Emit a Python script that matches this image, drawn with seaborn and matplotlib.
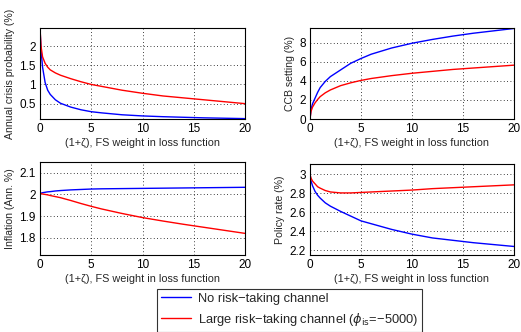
import numpy as np
import pandas as pd
import matplotlib
matplotlib.use("Agg")
import matplotlib.pyplot as plt
import seaborn as sns

# -------------------------------
# Data
# -------------------------------
fs_weight = [0, 0.1, 0.25, 0.5, 0.75, 1, 1.5, 2, 3, 4, 5, 6, 8, 10, 12, 14, 16, 18, 20]

crisis_no_rt = [2.47, 1.9, 1.45, 1.05, 0.85, 0.74, 0.6, 0.51, 0.41, 0.34, 0.29, 0.26,
                0.21, 0.18, 0.16, 0.145, 0.13, 0.12, 0.11]
crisis_large_rt = [2.47, 2.0, 1.72, 1.55, 1.45, 1.38, 1.3, 1.24, 1.15, 1.07, 1.0, 0.95,
                   0.85, 0.77, 0.7, 0.65, 0.6, 0.55, 0.5]

ccb_no_rt = [0, 1.0, 1.6, 2.2, 2.8, 3.3, 3.95, 4.45, 5.15, 5.85, 6.35, 6.8,
             7.45, 7.95, 8.35, 8.7, 9.0, 9.25, 9.5]
ccb_large_rt = [0, 0.8, 1.25, 1.7, 2.05, 2.35, 2.75, 3.05, 3.5, 3.8, 4.05, 4.25,
                4.55, 4.8, 5.0, 5.2, 5.35, 5.5, 5.65]

infl_no_rt = [2.005, 2.006, 2.008, 2.01, 2.012, 2.013, 2.016, 2.018, 2.021, 2.023, 2.025, 2.026,
              2.027, 2.028, 2.029, 2.03, 2.031, 2.032, 2.033]
infl_large_rt = [2.005, 2.004, 2.002, 2.0, 1.998, 1.995, 1.99, 1.985, 1.972, 1.958, 1.945, 1.933,
                 1.912, 1.893, 1.877, 1.862, 1.848, 1.834, 1.82]

rate_no_rt = [3.0, 2.93, 2.88, 2.82, 2.78, 2.75, 2.7, 2.665, 2.61, 2.56, 2.51, 2.48,
              2.42, 2.37, 2.33, 2.305, 2.28, 2.26, 2.24]
rate_large_rt = [3.0, 2.96, 2.93, 2.9, 2.87, 2.855, 2.83, 2.815, 2.805, 2.805, 2.81, 2.815,
                 2.825, 2.835, 2.85, 2.86, 2.87, 2.88, 2.89]

series_labels = ["No risk\u2212taking channel",
                 "Large risk\u2212taking channel ($\\phi_{\\mathrm{is}}$=\u22125000)"]

panels = [
    ("Annual crisis probability (%)", crisis_no_rt, crisis_large_rt, (0.1, 2.47), [0.5, 1, 1.5, 2]),
    ("CCB setting (%)", ccb_no_rt, ccb_large_rt, (0, 9.55), [0, 2, 4, 6, 8]),
    ("Inflation (Ann. %)", infl_no_rt, infl_large_rt, (1.72, 2.15), [1.8, 1.9, 2, 2.1]),
    ("Policy rate (%)", rate_no_rt, rate_large_rt, (2.15, 3.11), [2.2, 2.4, 2.6, 2.8, 3]),
]

# -------------------------------
# Style
# -------------------------------
sns.set_style("white")
plt.rcParams['font.family'] = ['Liberation Sans', 'DejaVu Sans']
plt.rcParams['font.size'] = 8
plt.rcParams['mathtext.fontset'] = 'dejavusans'

W, H = 521, 332
fig = plt.figure(figsize=(W / 100, H / 100), dpi=100)

# axes boxes in pixels: left, right, top, bottom
boxes = [(40, 245, 28, 119), (310, 514, 28, 119), (40, 245, 162, 255), (310, 514, 164, 255)]

for (ylabel, y_blue, y_red, ylim, yticks), (l, r, t, b) in zip(panels, boxes):
    ax = fig.add_axes([l / W, 1 - b / H, (r - l) / W, (b - t) / H])
    df = pd.DataFrame({
        "x": fs_weight * 2,
        "y": y_blue + y_red,
        "series": [series_labels[0]] * len(fs_weight) + [series_labels[1]] * len(fs_weight),
    })
    sns.lineplot(data=df, x="x", y="y", hue="series",
                 palette={series_labels[0]: "blue", series_labels[1]: "red"},
                 linewidth=1.0, ax=ax, legend=False)
    ax.set_xlim(0, 20)
    ax.set_ylim(*ylim)
    ax.set_xticks([0, 5, 10, 15, 20])
    ax.set_yticks(yticks)
    ax.set_yticklabels([f"{v:g}" for v in yticks])
    ax.set_xlabel("(1+\u03b6), FS weight in loss function", fontsize=7.8, labelpad=2)
    ax.set_ylabel(ylabel, fontsize=7.6, labelpad=3)
    ax.grid(True, linestyle=(0, (1, 3)), color="black", linewidth=0.6)
    ax.tick_params(direction="in", length=3, labelsize=8.5, pad=3, colors="black")
    for s in ax.spines.values():
        s.set_color("black")
        s.set_linewidth(0.8)

# -------------------------------
# Shared legend
# -------------------------------
handles = [plt.Line2D([], [], color="blue", lw=1.0), plt.Line2D([], [], color="red", lw=1.0)]
leg = fig.legend(handles, series_labels, loc="upper left",
                 bbox_to_anchor=(157 / W, 1 - 289 / H), fontsize=9.3,
                 frameon=True, fancybox=False, handlelength=2.3, handletextpad=0.55,
                 borderpad=0.3, labelspacing=0.45, borderaxespad=0)
leg.get_frame().set_edgecolor("black")
leg.get_frame().set_linewidth(0.8)

fig.savefig("out.png", dpi=100, facecolor="white")
